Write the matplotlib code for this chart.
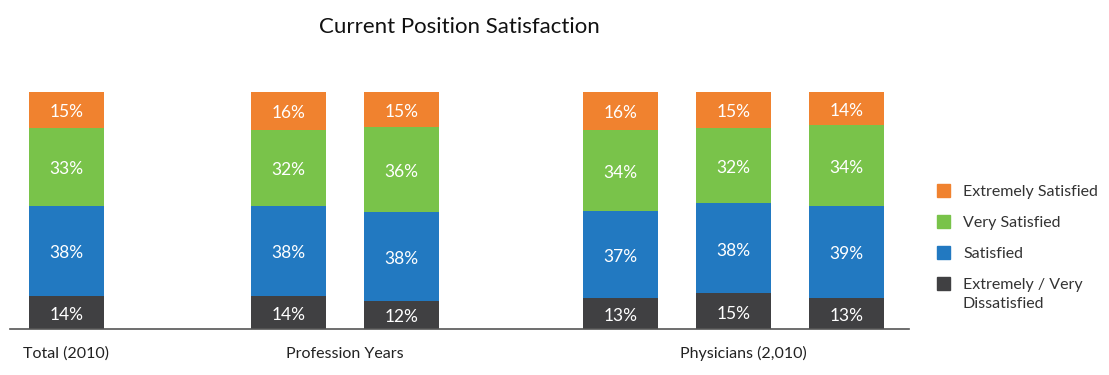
import numpy as np
import matplotlib.pyplot as plt
from matplotlib.patches import Rectangle

# data
bar_names = ["Total (2010)", "PY a", "PY b", "Phys a", "Phys b", "Phys c"]
dissatisfied = [14, 14, 12, 13, 15, 13]
satisfied = [38, 38, 38, 37, 38, 39]
very_satisfied = [33, 32, 36, 34, 32, 34]
extremely_satisfied = [15, 16, 15, 16, 15, 14]

series_labels = ["Extremely / Very\nDissatisfied", "Satisfied", "Very Satisfied", "Extremely Satisfied"]
group_labels = ["Total (2010)", "Profession Years", "Physicians (2,010)"]

colors = ["#404042", "#2279C1", "#79C34A", "#F0822F"]

plt.rcParams['font.family'] = ['Lato', 'DejaVu Sans']

W, H = 1109, 375
fig = plt.figure(figsize=(W / 100, H / 100), dpi=100)
ax = fig.add_axes([10 / W, 46 / H, 899 / W, 237 / H])

x = np.array([0, 1.965, 2.965, 4.9, 5.9, 6.9])
width = 0.664

stack = np.array([dissatisfied, satisfied, very_satisfied, extremely_satisfied], dtype=float)
totals = stack.sum(axis=0)
heights = stack / totals * 100  # normalise so every bar reaches the top

bottom = np.zeros(len(x))
for i in range(len(stack)):
    ax.bar(x, heights[i], width, bottom=bottom, color=colors[i])
    for j in range(len(x)):
        ax.text(x[j], bottom[j] + heights[i][j] / 2 - 1, f"{int(stack[i][j])}%",
                ha='center', va='center', color='white', fontsize=12.5)
    bottom += heights[i]

ax.set_xlim(-0.5, 7.456)
ax.set_ylim(0, 100)
for s in ['top', 'right', 'left']:
    ax.spines[s].set_visible(False)
ax.spines['bottom'].set_color('#555555')
ax.spines['bottom'].set_linewidth(1.2)
ax.set_xticks([])
ax.set_yticks([])

# group labels under the axis
group_x = [x[0], (x[1] + x[2]) / 2, x[4] + 0.09]
for gx, gl in zip(group_x, group_labels):
    ax.text(gx, -10.5, gl, ha='center', va='center', fontsize=11.5, color='#222222')

fig.text(459 / W, 1 - 27 / H, "Current Position Satisfaction", ha='center', va='center',
         fontsize=16, color='#111111')

# legend drawn by hand so the square lines up with the first text line
row_y = [190, 221, 252, 283]
for k, i in enumerate(range(len(series_labels) - 1, -1, -1)):
    y = row_y[k]
    fig.patches.append(Rectangle((937 / W, 1 - (y + 6.5) / H), 13 / W, 13 / H,
                                 transform=fig.transFigure, color=colors[i]))
    fig.text(963 / W, 1 - (y - 5) / H, series_labels[i], ha='left', va='top',
             fontsize=11.5, color='#333333', linespacing=1.45)

fig.savefig("out.png", dpi=100)
